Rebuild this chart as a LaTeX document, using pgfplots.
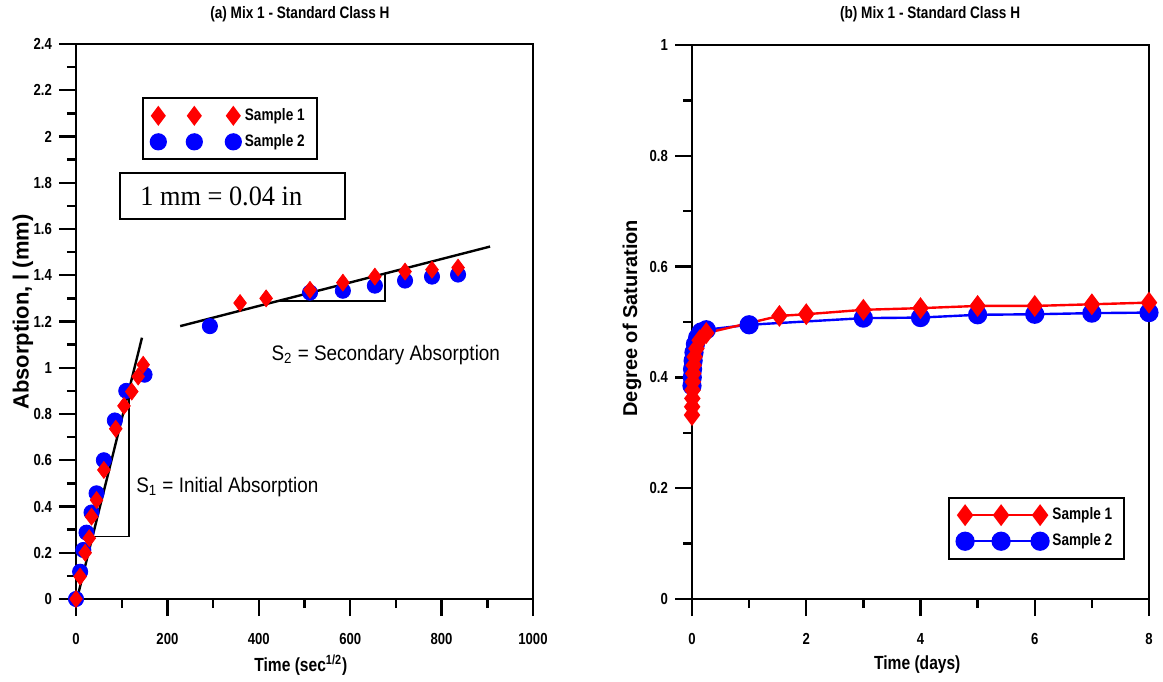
\documentclass[border=0pt]{standalone}
\usepackage{pgfplots}
\pgfplotsset{compat=1.18}
\usepackage{fontspec}
\setmainfont{Liberation Sans}[FakeStretch=0.82]
\newfontfamily\annotfont{Liberation Sans}[FakeStretch=0.9]
\newfontfamily\seriffont{Liberation Serif}[FakeStretch=0.94]
\newfontfamily\ylabfont{Liberation Sans}
\definecolor{myred}{RGB}{255,0,0}
\definecolor{myblue}{RGB}{0,0,255}
\begin{document}
\begin{tikzpicture}
\path[use as bounding box] (0,0) rectangle (581.5pt,340.5pt);
\pgfplotsset{
  common/.style={
    scale only axis,
    anchor=south west,
    clip=false,
    axis line style={line width=1.2pt},
    tick align=outside,
    xtick pos=left, ytick pos=left,
    every tick/.style={black, line width=1.2pt},
    major tick length=8.5pt,
    minor tick length=4.5pt,
    scaled ticks=false,
    /pgf/number format/assume math mode=true,
    /pgf/number format/set thousands separator={},
    tick label style={font=\bfseries\fontsize{8}{9}\selectfont},
    xticklabel style={yshift=-5pt},
    xlabel style={font=\bfseries\fontsize{9.5}{11}\selectfont, anchor=center},
    ylabel style={font=\ylabfont\bfseries\fontsize{11}{13}\selectfont, anchor=center},
  },
  leg3m/.style={legend image code/.code={\draw[##1] plot coordinates {(0pt,0pt)(18pt,0pt)(37.5pt,0pt)};}},
}
% ---------------- left panel ----------------
\begin{axis}[common, at={(38pt,41pt)}, width=228.5pt, height=277.5pt,
  xmin=0, xmax=1000, ymin=0, ymax=2.4,
  xtick={0,200,400,600,800,1000}, minor xtick={100,300,500,700,900},
  ytick={0,0.2,0.4,0.6,0.8,1,1.2,1.4,1.6,1.8,2,2.2,2.4},
  minor ytick={0.1,0.3,0.5,0.7,0.9,1.1,1.3,1.5,1.7,1.9,2.1,2.3},
  xlabel={Time (sec\textsuperscript{1/2})},
  xlabel style={at={(axis description cs:0.492,-0.119)}},
  ylabel={Absorption, l (mm)},
  ylabel style={at={(axis description cs:-0.116,0.517)}},
  legend style={at={(0.1438,0.904)}, anchor=north west, draw=black, line width=1pt,
    font=\bfseries\fontsize{8.3}{9}\selectfont, row sep=1.5pt, inner xsep=4pt, inner ysep=3pt},
  legend cell align=left,
  reverse legend,
]
\addplot[only marks, mark=*, color=myblue, mark size=3.8pt, leg3m] coordinates {
 (0,0)(9,0.118)(16,0.212)(23,0.287)(34,0.374)(45,0.457)(61,0.60)(85,0.772)(110,0.9)(150,0.97)
 (293,1.18)(512,1.325)(584,1.333)(654,1.355)(720,1.377)(779,1.394)(836,1.403)};
\addlegendentry{Sample 2}
\addplot[only marks, mark=diamond*, color=myred, mark size=4.2pt, leg3m] coordinates {
 (0,0)(9,0.097)(20,0.2)(29,0.263)(34,0.356)(45,0.428)(61,0.558)(87,0.736)(105,0.835)(122,0.897)(136,0.962)(147,1.013)
 (359,1.28)(416,1.30)(512,1.337)(584,1.368)(654,1.394)(720,1.416)(779,1.424)(836,1.433)};
\addlegendentry{Sample 1}
% fitted lines and slope triangles
\addplot[black, line width=1.2pt, forget plot] coordinates {(-2,-0.033)(144.4,1.13)};
\addplot[black, line width=1.2pt, forget plot] coordinates {(228,1.18)(906,1.524)};
\addplot[black, line width=0.9pt, forget plot] coordinates {(36,0.27)(116,0.27)(116,0.904)};
\addplot[black, line width=0.9pt, forget plot] coordinates {(445,1.29)(676,1.29)(676,1.407)};
\node[anchor=west, font=\annotfont\fontsize{10.5}{12}\selectfont, inner sep=0pt] at (axis cs:131,0.485) {S\textsubscript{1} = Initial Absorption};
\node[anchor=west, font=\annotfont\fontsize{10.5}{12}\selectfont, inner sep=0pt] at (axis cs:427,1.056) {S\textsubscript{2} = Secondary Absorption};
\draw[line width=1pt] (axis cs:96,1.843) rectangle (axis cs:589,1.642);
\node[anchor=west, font=\seriffont\fontsize{14}{16}\selectfont, inner sep=0pt] at (axis cs:140,1.743) {1 mm = 0.04 in};
\node[anchor=center, font=\bfseries\fontsize{8.3}{10}\selectfont, inner sep=0pt] at (axis description cs:0.49,1.054) {(a) Mix 1 - Standard Class H};
\end{axis}
% ---------------- right panel ----------------
\begin{axis}[common, at={(346pt,41pt)}, width=228.5pt, height=277pt,
  xmin=0, xmax=8, ymin=0, ymax=1,
  xtick={0,2,4,6,8}, minor xtick={1,3,5,7},
  ytick={0,0.2,0.4,0.6,0.8,1}, minor ytick={0.1,0.3,0.5,0.7,0.9},
  xlabel={Time (days)},
  xlabel style={at={(axis description cs:0.493,-0.119)}},
  ylabel={Degree of Saturation},
  ylabel style={at={(axis description cs:-0.1313,0.507)}, font=\ylabfont\bfseries\fontsize{10}{12}\selectfont},
  legend style={at={(0.5595,0.1847)}, anchor=north west, draw=black, line width=1pt,
    font=\bfseries\fontsize{8.3}{9}\selectfont, row sep=1.5pt, inner xsep=4pt, inner ysep=3pt},
  legend cell align=left,
  reverse legend,
]
\addplot[color=myblue, line width=1.2pt, mark=*, mark size=4.2pt, leg3m] coordinates {
 (0,0.385)(0.005,0.40)(0.01,0.415)(0.02,0.43)(0.035,0.445)(0.06,0.46)(0.1,0.472)(0.16,0.482)(0.25,0.486)
 (1,0.495)(3,0.507)(4,0.508)(5,0.513)(6,0.514)(7,0.516)(8,0.517)};
\addlegendentry{Sample 2}
\addplot[color=myred, line width=1.2pt, mark=diamond*, mark size=4.5pt, leg3m] coordinates {
 (0,0.332)(0.003,0.347)(0.006,0.362)(0.01,0.377)(0.015,0.392)(0.022,0.407)(0.03,0.422)(0.047,0.437)(0.077,0.452)(0.135,0.467)(0.25,0.48)
 (1.53,0.511)(2,0.514)(3,0.522)(4,0.525)(5,0.529)(6,0.529)(7,0.532)(8,0.535)};
\addlegendentry{Sample 1}
\node[anchor=center, font=\bfseries\fontsize{8.3}{10}\selectfont, inner sep=0pt] at (axis description cs:0.521,1.056) {(b) Mix 1 - Standard Class H};
\end{axis}
\end{tikzpicture}
\end{document}
